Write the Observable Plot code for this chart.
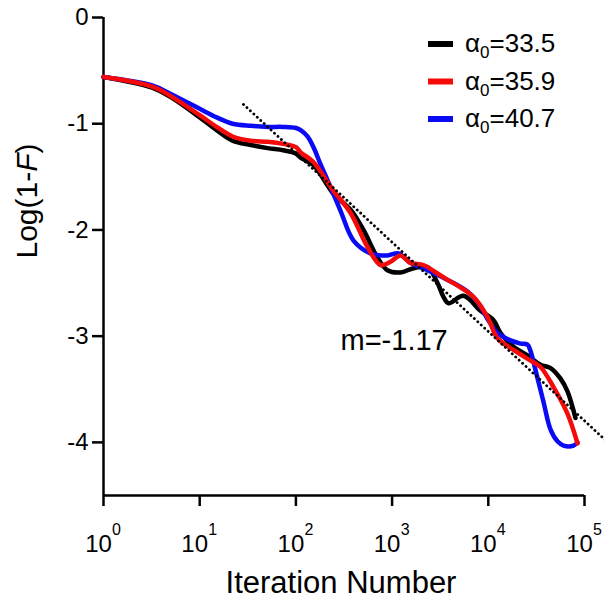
<!DOCTYPE html>
<html><head><meta charset="utf-8">
<script src="https://cdn.jsdelivr.net/npm/d3@7"></script>
<script src="https://cdn.jsdelivr.net/npm/@observablehq/plot@0.6"></script>
<style>
body{margin:0;background:#fff}
#chart{position:relative;width:604px;height:599px}
</style>
</head><body><div id="chart"></div>
<script>
// ---- data ----
const seriesNames = ["33.5", "35.9", "40.7"];
const seriesColors = ["#000000", "#f50a0a", "#0a0af5"];

const blackX = [1, 3.2, 5, 10, 15, 22, 34, 51, 74, 100, 112, 152, 213, 245, 370, 504, 705, 895, 1222, 1668, 2333, 2965, 3420, 3855, 5521, 8299, 11324, 13397, 18281, 25527, 34914, 44361, 56364, 66527, 80538];
const blackY = [-0.56, -0.66, -0.75, -0.94, -1.06, -1.16, -1.20, -1.23, -1.25, -1.28, -1.32, -1.39, -1.58, -1.66, -1.81, -2.0, -2.26, -2.38, -2.40, -2.36, -2.35, -2.50, -2.63, -2.69, -2.62, -2.76, -2.85, -2.97, -3.10, -3.18, -3.27, -3.30, -3.40, -3.52, -3.77];

const redX = [1, 3.2, 5, 10, 15, 22, 34, 51, 74, 100, 112, 152, 213, 245, 370, 555, 757, 962, 1222, 1552, 2118, 2965, 3767, 5140, 7015, 9817, 12474, 18281, 27479, 34914, 47643, 66527, 84528];
const redY = [-0.56, -0.65, -0.74, -0.92, -1.03, -1.12, -1.16, -1.17, -1.19, -1.22, -1.27, -1.36, -1.55, -1.63, -1.84, -2.16, -2.33, -2.30, -2.24, -2.31, -2.33, -2.41, -2.47, -2.54, -2.63, -2.82, -3.02, -3.13, -3.23, -3.29, -3.48, -3.73, -4.01];

const blueX = [1, 3.2, 5, 10, 15, 22, 34, 51, 74, 100, 112, 132, 152, 180, 213, 291, 397, 596, 895, 1167, 1552, 2333, 3420, 6081, 8299, 10000, 12474, 17022, 21627, 25527, 27479, 30974, 37497, 44361, 52360, 60534, 76913, 84528];
const blueY = [-0.56, -0.64, -0.72, -0.86, -0.94, -1.0, -1.02, -1.03, -1.03, -1.04, -1.06, -1.12, -1.22, -1.38, -1.53, -1.82, -2.10, -2.22, -2.24, -2.22, -2.31, -2.38, -2.45, -2.58, -2.72, -2.85, -2.97, -3.04, -3.07, -3.08, -3.14, -3.32, -3.62, -3.88, -3.99, -4.03, -4.03, -4.0];

const fitX = [28.5, 170000];
const fitY = [-0.818, -3.99];
const slopeLabel = ["m=-1.17"];

const xTicks = [1, 10, 100, 1000, 10000, 100000];
const xTickExponents = ["0", "1", "2", "3", "4", "5"];
const yTicks = [0, -1, -2, -3, -4];
const xTitle = "Iteration Number";
const yTitle = "Log(1-F)";

// ---- build tables ----
const toRows = (xs, ys, s) => xs.map((x, i) => ({x, y: ys[i], s}));
const blackRows = toRows(blackX, blackY, seriesNames[0]);
const redRows = toRows(redX, redY, seriesNames[1]);
const blueRows = toRows(blueX, blueY, seriesNames[2]);
const fitRows = toRows(fitX, fitY, "fit");
const tickRows = xTicks.map((t, i) => ({t, e: xTickExponents[i]}));

const FONT = "'Liberation Sans', Arial, Helvetica, sans-serif";

const chart = Plot.plot({
  width: 604, height: 599,
  marginLeft: 103, marginRight: 20, marginTop: 17, marginBottom: 104,
  style: {fontFamily: FONT, background: "#fff", color: "#000", overflow: "visible"},
  x: {type: "log", domain: [1, 1e5]},
  y: {domain: [-4.5, 0]},
  marks: [
    Plot.axisY(yTicks, {tickSize: 11, tickPadding: 4, fontSize: 24, strokeWidth: 2.5, tickFormat: d => String(d), label: null}),
    Plot.axisX(xTicks, {tickSize: 11, strokeWidth: 2.5, tickFormat: () => "", label: null}),
    Plot.text(tickRows, {x: "t", text: () => "10", frameAnchor: "bottom", dy: 49, dx: -5, fontSize: 24, lineAnchor: "middle"}),
    Plot.text(tickRows, {x: "t", text: "e", frameAnchor: "bottom", dy: 34, dx: 13, fontSize: 16, lineAnchor: "middle"}),
    Plot.ruleX([1], {stroke: "#000", strokeWidth: 2.5}),
    Plot.ruleY([-4.5], {stroke: "#000", strokeWidth: 2.5}),
    Plot.text([xTitle], {frameAnchor: "bottom", dy: 88, dx: -3, fontSize: 31, lineAnchor: "middle"}),
    Plot.text([yTitle], {frameAnchor: "left", dx: -76, dy: 2, rotate: -90, fontSize: 30, lineAnchor: "middle", className: "ytitle"}),
    Plot.line(blackRows, {x: "x", y: "y", stroke: seriesColors[0], strokeWidth: 4.5, curve: "catmull-rom"}),
    Plot.line(blueRows, {x: "x", y: "y", stroke: seriesColors[2], strokeWidth: 4.5, curve: "catmull-rom"}),
    Plot.line(redRows, {x: "x", y: "y", stroke: seriesColors[1], strokeWidth: 4.5, curve: "catmull-rom"}),
    Plot.line(fitRows, {x: "x", y: "y", stroke: "#000", strokeWidth: 2.8, strokeDasharray: "0.1,4.6", strokeLinecap: "round"}),
    Plot.text(slopeLabel, {frameAnchor: "top-left", dx: 237, dy: 323, textAnchor: "start", lineAnchor: "middle", fontSize: 29})
  ]
});
document.getElementById("chart").appendChild(chart);

// italic F in the y title
d3.select(chart).selectAll(".ytitle text").each(function() {
  const t = d3.select(this);
  const s = t.text();
  const k = s.indexOf("F");
  t.text(null);
  t.append("tspan").text(s.slice(0, k));
  t.append("tspan").attr("font-style", "italic").text("F");
  t.append("tspan").text(s.slice(k + 1));
});

// legend
const lg = d3.select(chart).append("g").attr("font-family", FONT).attr("fill", "#000").attr("text-anchor", "start");
seriesNames.forEach((name, i) => {
  const base = 52 + i * 37.5;
  lg.append("line").attr("x1", 428).attr("x2", 453).attr("y1", base - 8).attr("y2", base - 8)
    .attr("stroke", seriesColors[i]).attr("stroke-width", 6);
  const t = lg.append("text").attr("x", 465).attr("y", base).attr("font-size", 26).attr("text-anchor", "start");
  t.append("tspan").text("α");
  t.append("tspan").attr("font-size", 17).attr("dy", 6).text("0");
  t.append("tspan").attr("dy", -6).text("=" + name);
});
</script></body></html>
